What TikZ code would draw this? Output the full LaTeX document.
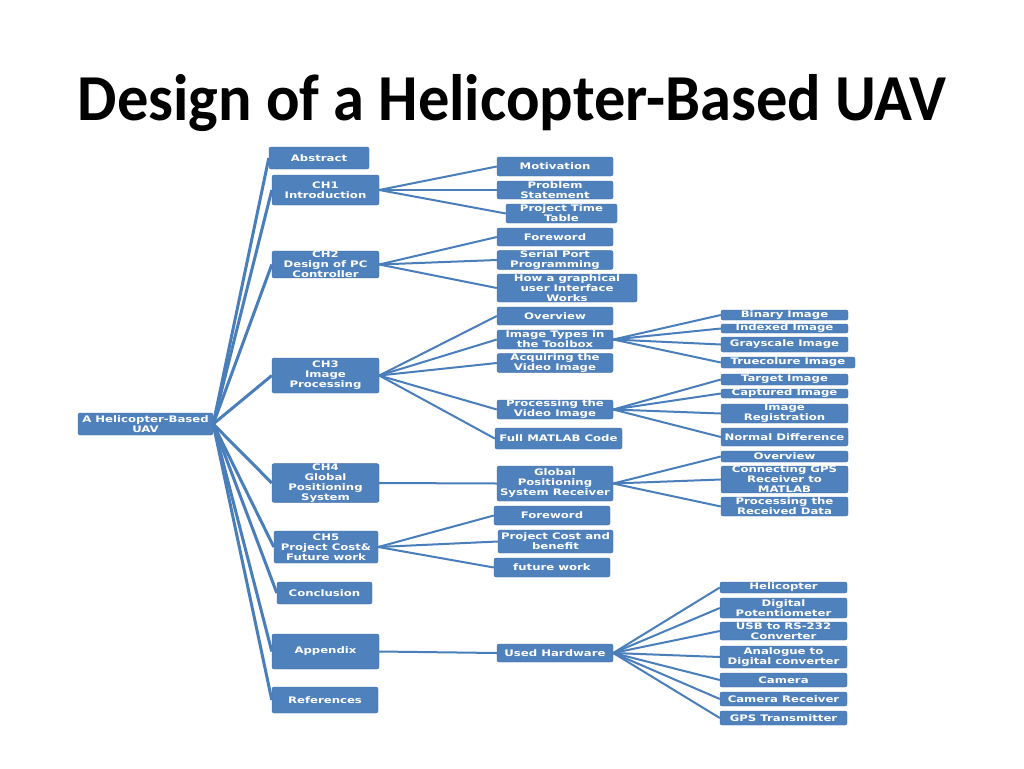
\documentclass[tikz,border=0pt]{standalone}
\usepackage{fontspec}
\newfontfamily\titlefont{Carlito}
\newfontfamily\boxfont[FakeStretch=1.3]{DejaVu Sans}
\definecolor{boxblue}{HTML}{4F81BD}
\definecolor{lineblue}{HTML}{4A7EBB}
\tikzset{
  box/.style={fill=boxblue, draw=boxblue!85!black, line width=0.4pt, rounded corners=2pt, inner sep=0pt, align=center, text=white,
    font=\boxfont\bfseries\fontsize{9}{10}\selectfont},
  rootline/.style={draw=lineblue, line width=3pt},
  conn/.style={draw=lineblue, line width=2pt},
}
\begin{document}
\begin{tikzpicture}[x=1pt,y=-1pt]
\fill[white] (0,0) rectangle (1024,768);
\useasboundingbox (0,0) rectangle (1024,768);
\node[anchor=base, font=\titlefont\bfseries\fontsize{62.5}{70}\selectfont] (title) at (512,120) {\scalebox{1}[1.05]{Design of a Helicopter-Based UAV}};
% root
\node[box, minimum width=135pt, minimum height=22pt] (root) at (145.5,424) {A Helicopter-Based\\UAV};
% level 1
\node[box, minimum width=100pt, minimum height=22pt] (abs) at (319,158) {Abstract};
\node[box, minimum width=107pt, minimum height=30pt] (ch1) at (325.5,190) {CH1\\Introduction};
\node[box, minimum width=107pt, minimum height=25pt] (ch2) at (325.5,264.5) {CH2\\Design of PC\\Controller};
\node[box, minimum width=107pt, minimum height=35pt] (ch3) at (325.5,375.5) {CH3\\Image\\Processing};
\node[box, minimum width=107pt, minimum height=38pt] (ch4) at (325.5,483) {CH4\\Global\\Positioning\\System};
\node[box, minimum width=104pt, minimum height=32pt] (ch5) at (326,547) {CH5\\Project Cost\&\\Future work};
\node[box, minimum width=95pt, minimum height=22pt] (conc) at (324.5,593) {Conclusion};
\node[box, minimum width=107pt, minimum height=35pt] (app) at (325.5,651.5) {Appendix};
\node[box, minimum width=106pt, minimum height=26pt] (refs) at (325,700) {References};
% level 2
\node[box, minimum width=116pt, minimum height=19pt] (mot) at (555,166.5) {Motivation};
\node[box, minimum width=116pt, minimum height=18pt] (prob) at (555,190) {Problem\\Statement};
\node[box, minimum width=111pt, minimum height=19pt] (ptt) at (561.5,213.5) {Project Time\\Table};
\node[box, minimum width=116pt, minimum height=18pt] (fw1) at (555,237) {Foreword};
\node[box, minimum width=116pt, minimum height=18pt] (spp) at (555,260) {Serial Port\\Programming};
\node[box, minimum width=140pt, minimum height=28pt] (gui) at (567,288) {How a graphical\\user Interface\\Works};
\node[box, minimum width=116pt, minimum height=18pt] (ov1) at (555,316) {Overview};
\node[box, minimum width=116pt, minimum height=19pt] (itt) at (555,339.5) {Image Types in\\the Toolbox};
\node[box, minimum width=116pt, minimum height=18pt] (acq) at (555,363) {Acquiring the\\Video Image};
\node[box, minimum width=116pt, minimum height=19pt] (pvi) at (555,409.5) {Processing the\\Video Image};
\node[box, minimum width=127pt, minimum height=21pt] (mat) at (558.5,438.5) {Full MATLAB Code};
\node[box, minimum width=116pt, minimum height=35pt] (gpsr) at (555,483.5) {Global\\Positioning\\System Receiver};
\node[box, minimum width=116pt, minimum height=19pt] (fw2) at (552,515.5) {Foreword};
\node[box, minimum width=115pt, minimum height=23pt] (pcb) at (555.5,541.5) {Project Cost and\\benefit};
\node[box, minimum width=116pt, minimum height=19pt] (fut) at (552,567.5) {future work};
\node[box, minimum width=116pt, minimum height=18pt] (hw) at (555,653) {Used Hardware};
% level 3
\node[box, minimum width=127pt, minimum height=10pt] (bin) at (784.5,315) {Binary Image};
\node[box, minimum width=127pt, minimum height=9pt] (idx) at (784.5,328.5) {Indexed Image};
\node[box, minimum width=127pt, minimum height=15pt] (gray) at (784.5,344.5) {Grayscale Image};
\node[box, minimum width=134pt, minimum height=11pt] (true) at (788,362.5) {Truecolure Image};
\node[box, minimum width=127pt, minimum height=11pt] (tgt) at (784.5,379.5) {Target Image};
\node[box, minimum width=127pt, minimum height=9pt] (cap) at (784.5,393.5) {Captured Image};
\node[box, minimum width=127pt, minimum height=19pt] (reg) at (784.5,413.5) {Image\\Registration};
\node[box, minimum width=127pt, minimum height=18pt] (nd) at (784.5,437) {Normal Difference};
\node[box, minimum width=127pt, minimum height=11pt] (ov3) at (784.5,456.5) {Overview};
\node[box, minimum width=127pt, minimum height=25pt] (cgps) at (784.5,479.5) {Connecting GPS\\Receiver to\\MATLAB};
\node[box, minimum width=127pt, minimum height=19pt] (prd) at (784.5,506.5) {Processing the\\Received Data};
\node[box, minimum width=127pt, minimum height=11pt] (heli) at (783.5,587.5) {Helicopter};
\node[box, minimum width=127pt, minimum height=20pt] (pot) at (783.5,608) {Digital\\Potentiometer};
\node[box, minimum width=127pt, minimum height=18pt] (usb) at (783.5,631) {USB to RS-232\\Converter};
\node[box, minimum width=127pt, minimum height=22pt] (adc) at (783.5,657) {Analogue to\\Digital converter};
\node[box, minimum width=127pt, minimum height=14pt] (cam) at (783.5,680) {Camera};
\node[box, minimum width=127pt, minimum height=14pt] (camr) at (783.5,699) {Camera Receiver};
\node[box, minimum width=127pt, minimum height=14pt] (gpst) at (783.5,718) {GPS Transmitter};
% connectors
\foreach \c in {abs,ch1,ch2,ch3,ch4,ch5,conc,app,refs}
  \draw[rootline] (root.east) -- (\c.west);
\foreach \c in {mot,prob,ptt} \draw[conn] (ch1.east) -- (\c.west);
\foreach \c in {fw1,spp,gui} \draw[conn] (ch2.east) -- (\c.west);
\foreach \c in {ov1,itt,acq,pvi,mat} \draw[conn] (ch3.east) -- (\c.west);
\draw[conn] (ch4.east) -- (gpsr.west);
\foreach \c in {fw2,pcb,fut} \draw[conn] (ch5.east) -- (\c.west);
\draw[conn] (app.east) -- (hw.west);
\foreach \c in {bin,idx,gray,true} \draw[conn] (itt.east) -- (\c.west);
\foreach \c in {tgt,cap,reg,nd} \draw[conn] (pvi.east) -- (\c.west);
\foreach \c in {ov3,cgps,prd} \draw[conn] (gpsr.east) -- (\c.west);
\foreach \c in {heli,pot,usb,adc,cam,camr,gpst} \draw[conn] (hw.east) -- (\c.west);
\end{tikzpicture}
\end{document}
